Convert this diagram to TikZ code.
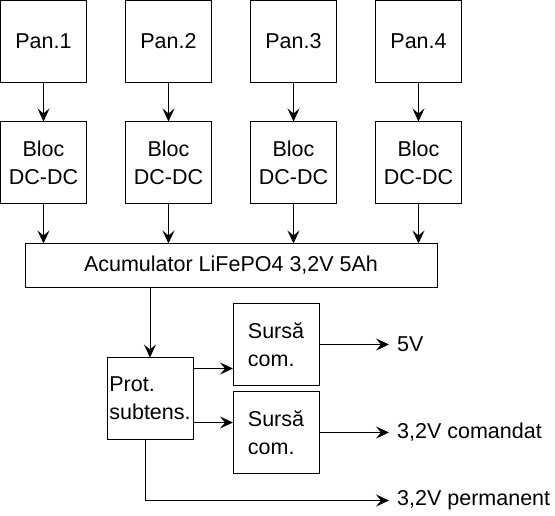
\documentclass[tikz,border=0pt]{standalone}
\usepackage{fontspec}
\setmainfont{Liberation Sans}
\usepackage{tikz}
\usetikzlibrary{positioning}
\usetikzlibrary{arrows.meta}

\begin{document}
\begin{tikzpicture}[blk/.style={draw, line width=1pt, outer sep=0pt, minimum width=86pt, minimum height=82pt, inner sep=2pt, align=center},
	lblk/.style={blk, align=left},
	outlbl/.style={inner xsep=8pt, inner ysep=0pt, anchor=west},
	arr/.style={line width=1pt, -{Stealth[length=13pt, width=12pt, inset=5pt]}},
	font=\fontsize{21.5}{28}\selectfont]
	\useasboundingbox (0,0) rectangle (555pt,-515pt);

	\node [blk, anchor=north west] (p1) at (0.5pt,-0.5pt) {Pan.1};
	\node [blk, right=39pt of p1] (p2) {Pan.2};
	\node [blk, right=39pt of p2] (p3) {Pan.3};
	\node [blk, right=39pt of p3] (p4) {Pan.4};

	\node [blk, below=39pt of p1] (b1) {Bloc\\DC-DC};
	\draw[arr] (p1) -- (b1);
	\node [blk, below=39pt of p2] (b2) {Bloc\\DC-DC};
	\draw[arr] (p2) -- (b2);
	\node [blk, below=39pt of p3] (b3) {Bloc\\DC-DC};
	\draw[arr] (p3) -- (b3);
	\node [blk, below=39pt of p4] (b4) {Bloc\\DC-DC};
	\draw[arr] (p4) -- (b4);

	\node [blk, minimum width=412pt, minimum height=44pt, below right=40pt and 24.5pt of b1.south west] (acc) {Acumulator LiFePO4 3,2V 5Ah};
	\draw[arr] (b1.south) -- (b1.south |- acc.north);
	\draw[arr] (b2.south) -- (b2.south |- acc.north);
	\draw[arr] (b3.south) -- (b3.south |- acc.north);
	\draw[arr] (b4.south) -- (b4.south |- acc.north);

	\node [lblk, below right=70pt and 82pt of acc.south west] (prot) {Prot.\\subtens.};
	\draw[arr] (prot.north |- acc.south) -- (prot.north);

	\node [lblk, right=40pt of prot.north east, anchor=north west, yshift=54pt] (s1) {Sursă\\com.};
	\node [lblk, below=6pt of s1] (s2) {Sursă\\com.};
	\coordinate (t1) at ([yshift=30pt]prot.east);
	\coordinate (t2) at ([yshift=-24pt]prot.east);
	\draw[arr] (t1) -- (t1 -| s1.west);
	\draw[arr] (t2) -- (t2 -| s2.west);

	\node [outlbl, right=70pt of s1.east] (v5) {5V};
	\draw[arr] (s1.east) -- (v5.west);
	\node [outlbl, right=70pt of s2.east] (vc) {3,2V comandat};
	\draw[arr] (s2.east) -- (vc.west);
	\coordinate [below=61pt of prot.south] (pc);
	\node [outlbl] (vp) at (vc.west |- pc) {3,2V permanent};
	\draw[arr] ([xshift=-5pt]prot.south) |- (vp.west);
\end{tikzpicture}
\end{document}
